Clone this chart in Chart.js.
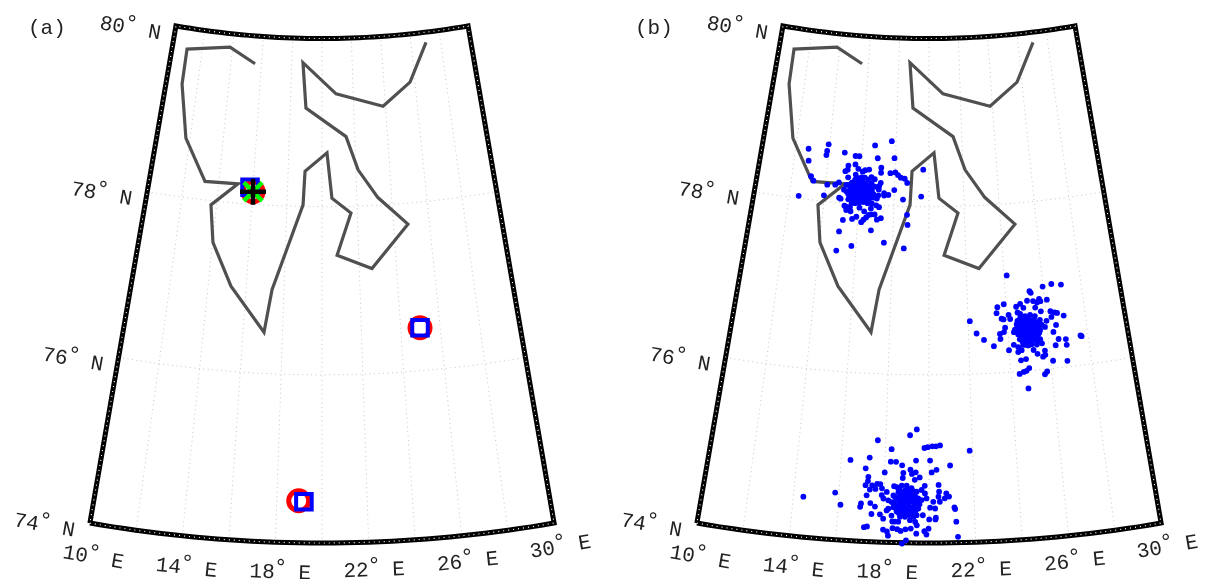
<!DOCTYPE html>
<html>
<head>
<meta charset="utf-8">
<title>Map panels</title>
<script src="https://cdn.jsdelivr.net/npm/chart.js@4"></script>
<style>
  html, body { margin: 0; padding: 0; background: #fff; overflow: hidden; }
  canvas { position: absolute; top: 0; }
  #panelA { left: 0; }
  #panelB { left: 607px; }
</style>
</head>
<body>
<canvas id="panelA" width="607" height="579"></canvas>
<canvas id="panelB" width="607" height="579"></canvas>
<script>
// ticks of the map
const lonTicks = [10, 14, 18, 22, 26, 30]
const latTicks = [74, 76, 78, 80]
const lonGrid = [12, 14, 16, 18, 20, 22, 24, 26, 28]
const latGrid = [76, 78]

// coast line, [lon, lat]
const coast = [[15.58,79.67],[13.82,79.84],[10.99,79.75],[11.02,79.33],[11.75,78.70],[13.20,78.22],[15.12,78.23],
  [13.69,77.95],[14.02,77.51],[15.20,77.01],[17.06,76.49],[17.37,77.00],[18.92,78.02],[19.00,78.42],[20.30,78.64],
  [20.57,78.10],[21.64,77.92],[20.82,77.42],[22.68,77.25],[24.80,77.75],[23.21,78.09],[22.13,78.43],[21.47,78.83],
  [18.99,79.17],[18.74,79.71],[20.90,79.34],[23.85,79.17],[25.69,79.43],[27.02,79.88]]

// panel (a) markers, [lon, lat]
const trueSites = [[16.02,78.15],[24.98,76.51],[18.97,74.50]]
const foundSites = [[15.83,78.20],[24.98,76.51],[19.20,74.49]]
const bestSite = [[16.02,78.15]]

// panel (b) clouds, [lon, lat]
const cloudNorth = [[12.77,78.60],[13.94,78.68],[13.89,78.60],[13.87,78.55],[12.86,78.46],[14.95,78.60],[15.61,78.57],[15.84,78.57],
  [16.74,78.71],[17.74,78.77],[16.94,78.56],[17.94,78.57],[15.23,78.45],[15.64,78.47],[15.21,78.40],[15.08,78.38],
  [15.83,78.42],[16.47,78.42],[16.24,78.41],[16.10,78.39],[17.18,78.45],[17.18,78.39],[17.73,78.39],[18.02,78.40],
  [18.18,78.37],[18.35,78.34],[18.58,78.33],[18.73,78.28],[19.66,78.44],[13.11,78.28],[13.28,78.23],[14.10,78.20],
  [14.56,78.21],[14.76,78.24],[15.27,78.31],[15.70,78.35],[12.54,78.03],[13.97,78.07],[14.85,78.06],[14.94,78.05],
  [17.99,78.19],[18.51,78.08],[19.55,78.12],[17.66,78.13],[17.41,78.15],[17.42,78.12],[17.09,78.12],[17.01,78.08],
  [17.19,78.27],[17.11,78.23],[17.09,78.19],[15.19,77.97],[15.31,77.92],[15.56,77.91],[15.28,77.96],[15.51,77.96],
  [16.05,77.96],[16.33,77.92],[16.70,77.96],[16.99,78.00],[17.16,77.98],[15.17,77.80],[15.68,77.82],[15.91,77.85],
  [16.20,77.79],[16.32,77.82],[16.46,77.85],[16.59,77.88],[16.74,77.89],[16.93,77.89],[17.07,77.83],[17.29,77.85],
  [18.76,77.90],[18.80,77.78],[16.77,77.70],[15.01,77.66],[17.52,77.56],[18.62,77.50],[15.75,77.50],[14.95,77.43],
  [15.32,78.22],[15.51,78.25],[15.69,78.29],[15.87,78.31],[16.06,78.32],[16.25,78.32],[16.45,78.30],[16.66,78.26],
  [16.86,78.22],[15.44,78.17],[15.62,78.19],[15.81,78.21],[15.99,78.23],[16.18,78.26],[16.38,78.24],[16.58,78.20],
  [15.25,78.14],[15.50,78.11],[15.74,78.13],[15.92,78.15],[16.11,78.18],[16.30,78.17],[16.56,78.15],[16.80,78.13],
  [15.38,78.05],[15.63,78.06],[15.85,78.07],[16.08,78.09],[16.33,78.10],[16.54,78.09],[16.81,78.09],[15.78,78.01],
  [16.01,78.02],[16.25,78.03],[16.49,78.02],[16.74,78.02],[15.59,78.01],[16.01,78.19],[15.79,78.25],[16.20,78.20],
  [16.42,78.12],[16.03,78.13],[15.72,78.17],[16.63,78.33],[16.83,78.31],[15.98,78.27],[15.59,78.23],[16.22,78.13],
  [15.88,78.10],[15.36,78.11],[15.09,78.16],[15.20,78.22],[16.60,78.08],
  [15.45,78.12],[15.62,78.15],[15.83,78.17],[16.02,78.17],[16.20,78.16],[16.45,78.18],[16.70,78.17],[15.50,78.20],
  [15.70,78.23],[15.90,78.26],[16.10,78.24],[16.30,78.22],[16.50,78.22],[15.50,78.07],[15.72,78.09],[15.95,78.12],
  [16.15,78.12],[16.45,78.07],[16.70,78.12],[15.70,78.03],[15.95,78.05],[16.18,78.06],[16.40,78.05]]

const cloudEast = [[24.14,77.15],[25.98,76.98],[26.45,77.00],[26.95,76.98],[25.27,76.94],[25.33,76.92],[25.10,76.83],[25.41,76.82],
  [25.61,76.80],[25.73,76.84],[25.79,76.81],[26.13,76.82],[24.73,76.80],[24.51,76.77],[24.88,76.75],[23.88,76.81],
  [23.54,76.78],[23.48,76.71],[25.49,76.74],[24.09,76.68],[24.56,76.70],[24.69,76.68],[23.72,76.64],[23.82,76.63],
  [24.16,76.63],[25.76,76.69],[26.25,76.68],[26.46,76.66],[26.58,76.65],[26.90,76.61],[26.27,76.61],[26.00,76.57],
  [22.09,76.63],[23.87,76.53],[23.80,76.48],[23.59,76.46],[23.60,76.40],[22.41,76.48],[22.77,76.40],[23.25,76.32],
  [23.99,76.26],[24.30,76.47],[25.89,76.50],[26.46,76.51],[26.29,76.43],[26.51,76.34],[26.87,76.33],[26.88,76.26],
  [26.33,76.27],[27.62,76.35],[27.67,76.34],[24.25,76.32],[24.46,76.29],[24.62,76.25],[24.44,76.23],[25.39,76.19],
  [25.65,76.15],[25.77,76.17],[25.77,76.22],[26.12,76.09],[26.82,76.07],[24.55,76.13],[24.80,76.14],[24.92,76.03],
  [24.78,76.00],[24.64,75.99],[24.43,75.97],[25.78,75.97],[25.66,75.94],[24.80,75.79],[25.21,76.24],[25.66,76.31],
  [24.67,76.63],[24.93,76.65],[25.19,76.66],[25.43,76.64],[25.67,76.59],[24.47,76.56],[24.73,76.57],[24.99,76.58],
  [25.24,76.58],[25.49,76.56],[25.73,76.53],[24.36,76.50],[24.62,76.49],[24.88,76.51],[25.13,76.50],[25.38,76.50],
  [25.63,76.47],[24.51,76.44],[24.77,76.43],[25.02,76.44],[25.27,76.43],[25.52,76.42],[24.57,76.38],[24.83,76.37],
  [25.08,76.37],[25.34,76.37],[25.59,76.36],[24.72,76.31],[24.97,76.30],[25.40,76.30],[24.52,76.60],[25.06,76.55],
  [24.78,76.47],[25.20,76.46],[24.92,76.40],[25.26,76.39],[24.72,76.53],[25.45,76.46],
  [24.60,76.60],[24.86,76.61],[25.12,76.62],[25.37,76.60],[25.60,76.55],[24.55,76.52],[24.80,76.54],[25.05,76.53],
  [25.30,76.54],[25.55,76.51],[24.50,76.47],[24.70,76.46],[24.95,76.47],[25.10,76.46],[25.35,76.45],[25.58,76.44],
  [24.64,76.41],[24.88,76.42],[25.14,76.41],[25.42,76.40],[24.70,76.35],[24.95,76.35],[25.20,76.35],[25.46,76.34],
  [24.86,76.31],[25.14,76.31]]

const cloudSouth = [[19.43,75.35],[19.12,75.28],[17.63,75.21],[18.28,75.11],[19.79,75.13],[19.94,75.14],[20.15,75.15],[20.32,75.15],
  [20.51,75.16],[21.87,75.09],[17.29,75.00],[16.42,74.96],[18.26,74.96],[18.50,74.96],[19.41,74.98],[20.05,74.98],
  [18.78,74.92],[20.96,74.92],[17.13,74.87],[19.16,74.87],[18.00,74.83],[18.84,74.83],[19.23,74.82],[19.40,74.84],
  [20.12,74.84],[20.34,74.87],[17.27,74.77],[17.26,74.72],[18.82,74.77],[19.58,74.78],[17.82,74.69],[17.68,74.69],
  [17.46,74.67],[18.44,74.67],[19.36,74.75],[17.16,74.67],[17.36,74.62],[17.61,74.63],[17.90,74.64],[20.43,74.69],
  [19.81,74.68],[17.23,74.55],[15.83,74.56],[14.44,74.48],[16.10,74.42],[17.00,74.45],[16.97,74.41],[17.41,74.46],
  [17.62,74.42],[17.85,74.33],[17.48,74.33],[20.77,74.59],[20.89,74.55],[20.70,74.53],[20.45,74.61],[20.42,74.55],
  [20.48,74.49],[21.12,74.42],[21.15,74.40],[20.01,74.28],[20.30,74.30],[20.28,74.28],[21.19,74.25],[17.18,74.17],
  [17.31,74.18],[18.01,74.15],[18.18,74.13],[18.23,74.08],[18.42,74.17],[18.62,74.16],[18.77,74.14],[18.98,74.16],
  [19.21,74.17],[19.47,74.21],[19.45,74.11],[19.80,74.14],[19.98,74.17],[19.89,74.10],[21.25,74.07],[19.01,74.03],
  [18.84,73.99],[18.51,74.25],[18.40,74.25],[18.66,74.25],[19.73,74.33],[18.00,74.28],[17.90,74.56],[18.12,74.60],
  [17.98,74.52],[18.21,74.40],[18.14,74.38],[20.27,74.41],[20.05,74.42],[20.19,74.49],[19.82,74.59],
  [18.56,74.66],[18.78,74.68],[19.00,74.68],[19.22,74.65],[19.45,74.61],[18.42,74.56],[18.64,74.60],[18.86,74.60],
  [19.08,74.61],[19.30,74.57],[19.52,74.53],[18.35,74.48],[18.57,74.52],[18.79,74.52],[19.01,74.53],[19.23,74.51],
  [19.46,74.47],[19.67,74.51],[18.43,74.42],[18.65,74.45],[18.87,74.45],[19.09,74.45],[19.31,74.43],[19.53,74.41],
  [18.58,74.37],[18.80,74.37],[19.02,74.37],[19.24,74.35],[19.46,74.33],[18.95,74.31],[19.17,74.27],[19.40,74.25],
  [18.73,74.31],[19.67,74.63],[19.89,74.53],[18.20,74.50],[18.36,74.32],
  [18.68,74.63],[18.92,74.62],[19.15,74.60],[19.38,74.56],[18.50,74.54],[18.72,74.56],[18.95,74.56],[19.18,74.55],
  [19.40,74.52],[18.46,74.47],[18.70,74.49],[18.92,74.49],[19.14,74.49],[19.36,74.47],[19.58,74.46],[18.52,74.41],
  [18.76,74.41],[18.98,74.41],[19.20,74.40],[19.42,74.39],[18.68,74.35],[18.90,74.34],[19.12,74.33],[19.33,74.31],
  [19.07,74.64],[19.28,74.62]]

// conic map projection, one plane unit is one degree of latitude
const coneFactor = 0.982
const topRadius = 10.187
const centreLon = 20

function project(lon, lat) {
    const angle = coneFactor * (lon - centreLon) * Math.PI / 180
    const radius = topRadius + (80 - lat)
    return { x: radius * Math.sin(angle), y: radius * Math.cos(angle) }
}

function toPoints(pairs) {
    return pairs.map(p => project(p[0], p[1]))
}

function parallel(lat, fromLon, toLon) {
    const points = []
    const step = fromLon < toLon ? 0.5 : -0.5
    for (let lon = fromLon; step > 0 ? lon <= toLon : lon >= toLon; lon += step) {
        points.push(project(lon, lat))
    }
    return points
}

function frameOutline() {
    return parallel(74, 10, 30).concat(parallel(80, 30, 10), [project(10, 74)])
}

function lineSet(points, color, width, dash) {
    return {
        data: points,
        showLine: true,
        pointRadius: 0,
        borderColor: color,
        borderWidth: width,
        borderDash: dash || [],
        tension: 0
    }
}

function markerSet(pairs, style, radius, color, width) {
    return {
        data: toPoints(pairs),
        pointStyle: style,
        pointRadius: radius,
        pointBorderColor: color,
        pointBackgroundColor: 'rgba(0,0,0,0)',
        pointBorderWidth: width
    }
}

function cloudSet(pairs) {
    return {
        data: toPoints(pairs),
        pointRadius: 2.9,
        pointBorderWidth: 0,
        pointBackgroundColor: '#0000ff'
    }
}

function gridSets() {
    const sets = []
    lonGrid.forEach(lon => sets.push(lineSet([project(lon, 74), project(lon, 80)], '#c4c4c4', 1, [1, 3.5])))
    latGrid.forEach(lat => sets.push(lineSet(parallel(lat, 10, 30), '#c4c4c4', 1, [1, 3.5])))
    return sets
}

// tick labels and panel letter, placed next to the frame
function degreeLabel(ctx, px, py, angle, number, letter) {
    ctx.save()
    ctx.translate(px, py)
    ctx.rotate(angle)
    ctx.font = "21px 'Liberation Mono'"
    ctx.fillStyle = '#222'
    ctx.fillText(number, 0, 0)
    ctx.font = "23px 'Liberation Mono'"
    ctx.fillText('°', 24, -4)
    ctx.font = "21px 'Liberation Mono'"
    ctx.fillText(letter, 49, 0)
    ctx.restore()
}

const mapLabels = {
    id: 'mapLabels',
    afterDatasetsDraw(chart, args, opts) {
        const ctx = chart.ctx
        const xs = chart.scales.x
        const ys = chart.scales.y
        lonTicks.forEach(lon => {
            const p = project(lon, 74)
            const angle = -coneFactor * (lon - centreLon) * Math.PI / 180
            const shift = -28 + 0.25 * (lon - 10)
            degreeLabel(ctx, xs.getPixelForValue(p.x) + shift, ys.getPixelForValue(p.y) + 35, angle, String(lon), 'E')
        })
        latTicks.forEach(lat => {
            const p = project(10, lat)
            const angle = coneFactor * 10 * Math.PI / 180
            degreeLabel(ctx, xs.getPixelForValue(p.x) - 77, ys.getPixelForValue(p.y) + 3, angle, String(lat), 'N')
        })
        ctx.save()
        ctx.font = "21px 'Liberation Mono'"
        ctx.fillStyle = '#222'
        ctx.fillText(opts.letter, 28, 34)
        ctx.restore()
    }
}

function makeMap(id, letter, topSets) {
    const ctx = document.getElementById(id).getContext('2d')
    const datasets = topSets.concat(
        [lineSet(toPoints(coast), '#505050', 3.2)],
        [lineSet(frameOutline(), '#ffffff', 1.2, [1, 4])],
        [lineSet(frameOutline(), '#000000', 5)],
        gridSets()
    )
    return new Chart(ctx, {
        type: 'scatter',
        data: { datasets: datasets },
        plugins: [mapLabels],
        options: {
            responsive: false,
            animation: false,
            devicePixelRatio: 1,
            layout: { padding: 0, autoPadding: false },
            plugins: {
                legend: { display: false },
                tooltip: { enabled: false },
                mapLabels: { letter: letter }
            },
            scales: {
                x: { type: 'linear', display: false, min: -3.830, max: 3.390 },
                y: { type: 'linear', display: false, reverse: true, min: 9.729, max: 16.615 }
            }
        }
    })
}

// first set is drawn on top
makeMap('panelA', '(a)', [
    markerSet(bestSite, 'cross', 13, '#000000', 4.5),
    markerSet(bestSite, 'crossRot', 13, '#00ff00', 4.5),
    markerSet(foundSites, 'rect', 11, '#0000ff', 4),
    markerSet(trueSites, 'circle', 10, '#ff0000', 5)
])
makeMap('panelB', '(b)', [cloudSet(cloudNorth), cloudSet(cloudEast), cloudSet(cloudSouth)])
</script>
</body>
</html>
